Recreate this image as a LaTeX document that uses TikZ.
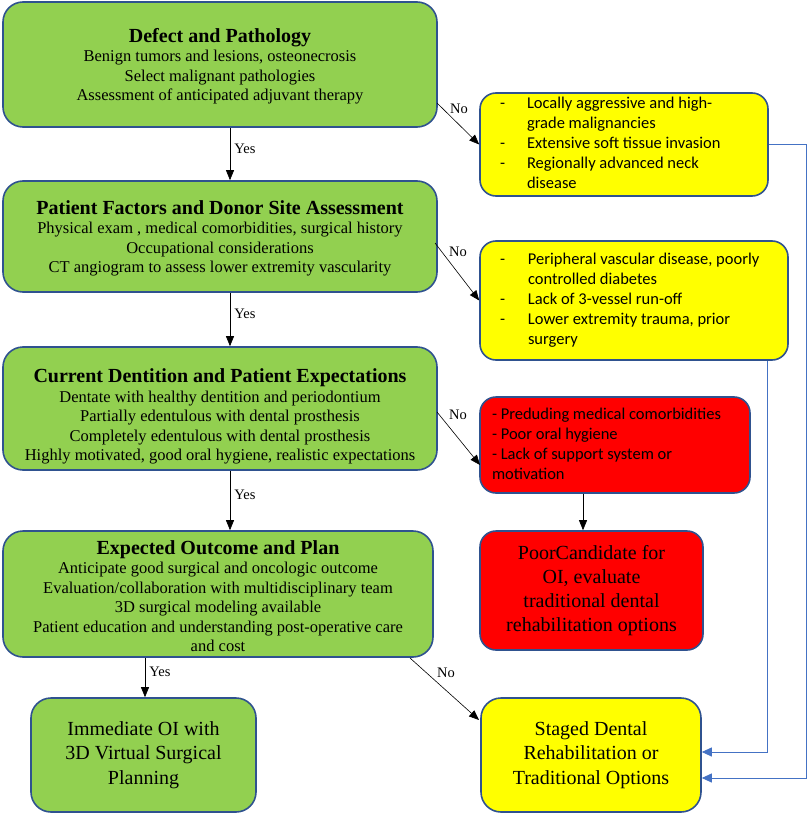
\documentclass[tikz,border=0pt]{standalone}
\usepackage{fontspec}
\setmainfont{Liberation Serif}
\newfontfamily\calib{Carlito}
\usetikzlibrary{arrows.meta,calc}
\definecolor{gfill}{HTML}{92D050}
\definecolor{bdr}{HTML}{2F528F}
\definecolor{ylw}{HTML}{FFFF00}
\definecolor{rd}{HTML}{FF0000}
\definecolor{blu}{HTML}{4472C4}
\newcommand{\ttl}{\fontsize{20}{22}\selectfont\bfseries}
\newcommand{\bdy}{\fontsize{16.5}{19.5}\selectfont}
\newcommand{\sml}{\calib\fontsize{16.5}{20}\selectfont}
\begin{document}
\begin{tikzpicture}[x=1pt,y=-1pt,
  box/.style={draw=bdr, line width=1.6pt, inner sep=0pt},
  gbox/.style={box, fill=gfill, rounded corners=20pt, align=center, font=\bdy},
  ybox/.style={box, fill=ylw, rounded corners=16pt},
  rbox/.style={box, fill=rd, rounded corners=16pt},
  big/.style={align=center, font=\fontsize{20}{24.5}\selectfont},
  arr/.style={-{Triangle[length=10pt,width=8pt]}, line width=0.6pt},
  barr/.style={draw=blu, line width=0.9pt, -{Triangle[length=10pt,width=9pt]}},
  lbl/.style={font=\fontsize{14.5}{16}\selectfont, inner sep=0pt}
]
\useasboundingbox (0,0) rectangle (807,813);

% green boxes
\node[gbox, minimum width=434, minimum height=125] (b1) at (220,64.5)
 {{\ttl\rule{0pt}{18pt}Defect and Pathology}\\ Benign tumors and lesions, osteonecrosis\\ Select malignant pathologies\\ Assessment of anticipated adjuvant therapy};
\node[gbox, minimum width=434, minimum height=111] (b2) at (220,236.5)
 {{\ttl\rule{0pt}{18pt}Patient Factors and Donor Site Assessment}\\ Physical exam , medical comorbidities, surgical history\\ Occupational considerations\\ CT angiogram to assess lower extremity vascularity};
\node[gbox, minimum width=434, minimum height=123] (b3) at (220,408.5)
 {{\ttl\rule{0pt}{30pt}Current Dentition and Patient Expectations}\\ Dentate with healthy dentition and periodontium\\ Partially edentulous with dental prosthesis\\ Completely edentulous with dental prosthesis\\ Highly motivated, good oral hygiene, realistic expectations};
\node[gbox, minimum width=430, minimum height=126] (b4) at (218,594)
 {{\ttl\rule{0pt}{18pt}Expected Outcome and Plan}\\ Anticipate good surgical and oncologic outcome\\ Evaluation/collaboration with multidisciplinary team\\ 3D surgical modeling available\\ Patient education and understanding post-operative care\\ and cost};
\node[box, fill=gfill, rounded corners=20pt, big, minimum width=225, minimum height=114] (im) at (143.5,755)
 {Immediate OI with\\ 3D Virtual Surgical\\ Planning};

% right column
\node[ybox, minimum width=288, minimum height=103] (y1) at (624,144.5)
 {\parbox{248pt}{\sml\begin{tabular}{@{}p{27pt}@{}l@{}}
 -&Locally aggressive and high-\\ &grade malignancies\\ -&Extensive soft tissue invasion\\ -&Regionally advanced neck\\ &disease\end{tabular}}};
\node[ybox, minimum width=308, minimum height=119] (y2) at (634,300.5)
 {\parbox{268pt}{\sml\begin{tabular}{@{}p{28pt}@{}l@{}}
 -&Peripheral vascular disease, poorly\\ &controlled diabetes\\ -&Lack of 3-vessel run-off\\ -&Lower extremity trauma, prior\\ &surgery\end{tabular}}};
\node[rbox, minimum width=270, minimum height=96] (r1) at (615,445)
 {\parbox{246pt}{\sml\begin{tabular}{@{}l@{}}
 - Preduding medical comorbidities\\ - Poor oral hygiene\\ - Lack of support system or\\ motivation\end{tabular}}};
\node[rbox, big, minimum width=223, minimum height=119, font=\fontsize{20}{24}\selectfont] (r2) at (591.5,590.5)
 {PoorCandidate for\\ OI, evaluate\\ traditional dental\\ rehabilitation options};
\node[ybox, big, minimum width=220, minimum height=114, rounded corners=20pt] (y3) at (591,755)
 {Staged Dental\\ Rehabilitation or\\ Traditional Options};

% yes arrows
\coordinate (ax) at (230,0);
\draw[arr] (b1.south -| ax) -- (b2.north -| ax) node[lbl, pos=0.4, right=4pt] {Yes};
\draw[arr] (b2.south -| ax) -- (b3.north -| ax) node[lbl, pos=0.4, right=4pt] {Yes};
\draw[arr] (b3.south -| ax) -- (b4.north -| ax) node[lbl, pos=0.4, right=4pt] {Yes};
\coordinate (ix) at (145,0);
\draw[arr] (b4.south -| ix) -- (im.north -| ix) node[lbl, pos=0.35, right=4pt] {Yes};

% no arrows
\coordinate (n1) at (437,103);
\coordinate (n2) at (435,243);
\coordinate (n3) at (437,412);
\coordinate (n3e) at (480,465);
\coordinate (n4) at (410,658);
\coordinate (n4e) at (479,720);
\draw[arr] (n1) -- (y1.west);
\node[lbl] (no1) at (459,109) {No};
\draw[arr] (n2) -- (y2.west);
\node[lbl] (no2) at (458,252) {No};
\draw[arr] (n3) -- (n3e);
\node[lbl] (no3) at (458,415) {No};
\draw[arr] (n4) -- (n4e);
\node[lbl] (no4) at (446,673) {No};

% red arrow
\coordinate (rx) at (583,0);
\draw[arr] (r1.south -| rx) -- (r2.north -| rx);

% blue connectors
\coordinate (c1) at (806,778);
\draw[barr] (y1.east) -| (c1) -- (c1 -| y3.east);
\coordinate (c2) at (767,752);
\draw[barr] (c2 |- y2.south) -- (c2) -- (c2 -| y3.east);
\end{tikzpicture}
\end{document}
